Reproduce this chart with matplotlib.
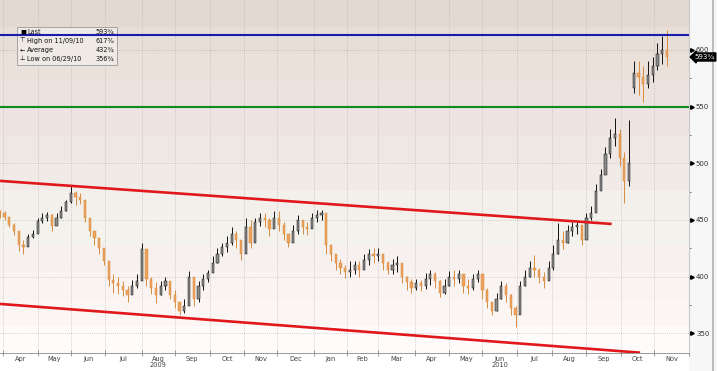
import numpy as np
import pandas as pd
import matplotlib
matplotlib.use('Agg')
import matplotlib.pyplot as plt
import matplotlib.transforms as mtransforms
from matplotlib.patches import Rectangle

# ---- data ----
# one candle every 3 trading days starting 2009-03-30
opens = [458, 456, 453, 446, 440, 428, 426, 435, 438, 449,
         452, 454, 445, 452, 458, 466, 474, 470, 468, 452,
         440, 434, 425, 414, 397, 394, 392, 388, 384, 392,
         396, 424, 398, 390, 384, 392, 396, 384, 378, 370,
         374, 400, 380, 392, 398, 403, 412, 420, 426, 430,
         438, 432, 420, 444, 430, 448, 452, 450, 442, 452,
         446, 438, 430, 440, 450, 444, 442, 452, 454, 456,
         428, 420, 412, 408, 404, 406, 410, 406, 415, 420,
         418, 420, 412, 406, 410, 412, 400, 395, 390, 394,
         392, 398, 402, 396, 386, 392, 400, 398, 402, 392,
         390, 398, 402, 388, 378, 370, 380, 392, 384, 372,
         366, 392, 400, 408, 406, 400, 396, 408, 420, 432,
         430, 440, 444, 446, 432, 452, 456, 476, 490, 508,
         522, 526, 505, 484, 566, 580, 576, 570, 578, 586,
         596, 600]
closes = [456, 453, 446, 440, 428, 426, 435, 438, 449, 452,
          454, 445, 452, 458, 466, 474, 470, 468, 452, 440,
          434, 425, 414, 397, 394, 392, 388, 384, 392, 396,
          424, 398, 390, 384, 392, 396, 384, 378, 370, 374,
          400, 380, 392, 398, 403, 412, 420, 426, 430, 438,
          432, 420, 444, 430, 448, 452, 450, 442, 452, 446,
          438, 430, 440, 450, 444, 442, 452, 454, 456, 428,
          420, 412, 408, 404, 406, 410, 406, 415, 420, 418,
          420, 412, 406, 410, 412, 400, 395, 390, 394, 392,
          398, 402, 396, 386, 392, 400, 398, 402, 392, 390,
          398, 402, 388, 378, 370, 380, 392, 384, 372, 366,
          392, 400, 408, 406, 400, 396, 408, 420, 432, 430,
          440, 444, 446, 432, 452, 456, 476, 490, 508, 522,
          526, 505, 484, 500, 580, 576, 570, 578, 586, 596,
          600, 593.75]
highs = [459, 458, 452, 447, 440, 432, 438, 441, 452, 456,
         457, 455, 456, 462, 468, 480, 476, 474, 466, 450,
         440, 432, 422, 410, 402, 400, 396, 392, 397, 402,
         430, 416, 400, 395, 396, 400, 392, 388, 378, 380,
         405, 392, 396, 402, 406, 418, 425, 430, 436, 444,
         440, 432, 452, 450, 452, 456, 456, 452, 458, 458,
         448, 438, 446, 454, 450, 448, 456, 459, 459, 454,
         428, 420, 416, 410, 414, 414, 414, 420, 424, 425,
         425, 420, 414, 416, 418, 410, 401, 398, 398, 397,
         403, 406, 404, 397, 398, 405, 406, 406, 402, 398,
         402, 406, 402, 390, 378, 386, 396, 394, 385, 374,
         396, 406, 414, 419, 408, 404, 414, 428, 447, 440,
         446, 448, 450, 446, 456, 462, 482, 495, 514, 530,
         540, 530, 510, 538, 590, 590, 586, 590, 594, 606,
         612, 617.6]
lows = [452, 450, 444, 437, 423, 420, 428, 434, 440, 447,
        449, 440, 446, 452, 458, 465, 463, 464, 448, 436,
        428, 420, 410, 392, 386, 385, 383, 378, 386, 390,
        400, 392, 385, 377, 384, 388, 380, 372, 366, 368,
        378, 374, 378, 388, 395, 405, 412, 418, 422, 428,
        425, 415, 430, 425, 440, 445, 444, 436, 444, 440,
        432, 426, 433, 438, 438, 437, 444, 448, 450, 420,
        414, 406, 402, 399, 400, 402, 400, 408, 410, 412,
        414, 406, 402, 402, 404, 394, 388, 386, 388, 387,
        389, 393, 390, 382, 385, 392, 392, 394, 386, 385,
        388, 395, 380, 372, 366, 370, 380, 378, 366, 356,
        378, 392, 400, 400, 394, 390, 398, 406, 420, 424,
        430, 436, 438, 428, 444, 450, 468, 478, 494, 505,
        515, 498, 465, 480, 562, 560, 554, 566, 572, 582,
        588, 586]

months = pd.date_range('2009-04-01', '2010-12-01', freq='MS')
month_names = ['Apr', 'May', 'Jun', 'Jul', 'Aug', 'Sep', 'Oct', 'Nov', 'Dec',
               'Jan', 'Feb', 'Mar', 'Apr', 'May', 'Jun', 'Jul', 'Aug', 'Sep',
               'Oct', 'Nov']
year_labels = {'Aug 2009': '2009', 'Jun 2010': '2010'}

upper_channel_dates = ['2009-03-30', '2010-09-23']
upper_channel_vals = [484.5, 446.5]
lower_channel_dates = ['2009-03-30', '2010-10-19']
lower_channel_vals = [376, 333]
resistance = 613
support = 550

legend_rows = [('\u25A0', 'Last', '593\u00BE'),
               ('\u22A4', 'High on 11/09/10', '617\u215D'),
               ('\u2190', 'Average', '432\u00BE'),
               ('\u22A5', 'Low on 06/29/10', '356\u00BE')]
last_price = 593.75

# ---- positions on a trading-day axis ----
days = pd.bdate_range('2009-03-30', '2011-01-31')
step = 3
x = np.arange(len(closes)) * step


def day_idx(d):
    return int(np.searchsorted(days, pd.Timestamp(d)))


month_idx = [day_idx(m) for m in months]
apr_idx, nov_idx = month_idx[0], month_idx[-2]
ppd = (662 - 3) / (nov_idx - apr_idx)
xmin = apr_idx - 3 / ppd
xmax = nov_idx + 27 / ppd

fig = plt.figure(figsize=(7.17, 3.71), dpi=100, facecolor='#FFFFFF')
ax = fig.add_axes([0, 18 / 371, 689 / 717, 353 / 371])
ax.set_xlim(xmin, xmax)
ax.set_ylim(332.7, 644)

# banded background, darker at the top
bands = ['#E3D9D1', '#E7DED7', '#EAE1DB', '#ECE2DE', '#EEE4E2', '#EFE7E4',
         '#F1EBE8', '#F3EFEB', '#F3F2EC', '#F6F1EF', '#F9F3F1', '#FBF6F4',
         '#FEFBFA']
rgb = np.array([matplotlib.colors.to_rgb(c) for c in bands])[:, None, :]
ax.imshow(rgb, extent=[0, 1, 0, 1], transform=ax.transAxes, aspect='auto',
          interpolation='nearest', zorder=0)

# right-side panel
fig.patches.append(Rectangle((689 / 717, 0), 28 / 717, 1, transform=fig.transFigure,
                             facecolor='#F7F7F7', edgecolor='none', zorder=-1))
fig.patches.append(Rectangle((712 / 717, 0), 2 / 717, 1, transform=fig.transFigure,
                             facecolor='#BDBDBD', edgecolor='none', zorder=-1))

# grid
for m in month_idx:
    ax.axvline(m, color='#ABABAB', lw=0.5, ls=(0, (1, 2)), zorder=1)
for v in range(350, 601, 50):
    ax.axhline(v, color='#ABABAB', lw=0.5, ls=(0, (1, 2)), zorder=1)

# candles
for xi, o, h, l, c in zip(x, opens, highs, lows, closes):
    up = c >= o
    body = '#8C8C8C' if up else '#EBA25C'
    edge = '#111111' if up else '#D98C3E'
    ax.vlines(xi, l, h, color=edge, lw=0.7, zorder=3)
    lo, hi = min(o, c), max(o, c)
    ax.add_patch(Rectangle((xi - 0.7, lo), 1.4, max(hi - lo, 0.6),
                           facecolor=body, edgecolor=edge, lw=0.35, zorder=4))

# trend / level lines
ax.plot([day_idx(d) for d in upper_channel_dates], upper_channel_vals,
        color='#E0181B', lw=1.9, zorder=5, solid_capstyle='butt')
ax.plot([day_idx(d) for d in lower_channel_dates], lower_channel_vals,
        color='#E0181B', lw=1.9, zorder=5, solid_capstyle='butt')
ax.axhline(resistance, color='#1B1BB0', lw=1.5, zorder=6)
ax.axhline(support, color='#0E8A1E', lw=1.5, zorder=6)

# legend box
ax.add_patch(Rectangle((17 / 689, 1 - 65 / 353), 100 / 689, 38 / 353,
                       transform=ax.transAxes, facecolor='#EFEAE5',
                       edgecolor='#9A9A9A', lw=0.6, zorder=5.5))
for i, (sym, name, val) in enumerate(legend_rows):
    yy = 1 - (32 + 9 * i) / 353
    ax.text(20 / 689, yy, sym, transform=ax.transAxes, fontsize=4.5,
            va='center', ha='left', zorder=7)
    ax.text(27 / 689, yy, name, transform=ax.transAxes, fontsize=4.7,
            va='center', ha='left', zorder=7, color='#111111')
    ax.text(114 / 689, yy, val, transform=ax.transAxes, fontsize=4.7,
            va='center', ha='right', zorder=7, color='#111111')

# axes styling
for s in ['top', 'left']:
    ax.spines[s].set_visible(False)
ax.spines['right'].set_color('#C8C8C8')
ax.spines['bottom'].set_color('#8A8A8A')
ax.spines['bottom'].set_linewidth(0.6)

ax.yaxis.tick_right()
ax.set_yticks(range(350, 601, 50))
ax.set_yticks(range(375, 601, 50), minor=True)
ax.tick_params(axis='y', which='major', length=0, pad=5, labelsize=5,
               labelcolor='#333333')
ax.tick_params(axis='y', which='minor', length=1.2, width=0.6, color='#555555')
ytrans = mtransforms.blended_transform_factory(ax.transAxes, ax.transData)
ax.plot([1.004] * 6, list(range(350, 601, 50)), ls='', marker='>', ms=2.6,
        color='black', transform=ytrans, clip_on=False, zorder=8)

# last price tag
ax.text(1.008, last_price, '593\u00BE', transform=ytrans, fontsize=5,
        color='white', va='center', ha='left', zorder=9,
        bbox=dict(boxstyle='larrow,pad=0.15', facecolor='black',
                  edgecolor='black'))

# x axis: ticks at month starts, labels mid month
ax.set_xticks(month_idx)
ax.set_xticklabels([])
ax.tick_params(axis='x', which='major', direction='inout', length=4,
               width=0.6, color='#8A8A8A')
mid = [(a + b) / 2 for a, b in zip(month_idx[:-1], month_idx[1:])]
ax.set_xticks(mid, minor=True)
labels = []
for m, name in zip(months[:-1], month_names):
    key = f'{name} {m.year}'
    labels.append(name + ('\n' + year_labels[key] if key in year_labels else ''))
ax.set_xticklabels(labels, minor=True)
ax.tick_params(axis='x', which='minor', length=0, pad=2, labelsize=4.8,
               labelcolor='#444444')
for t in ax.get_xticklabels(minor=True):
    t.set_linespacing(1.0)
    t.set_va('top')

fig.savefig('out.png', dpi=100)
